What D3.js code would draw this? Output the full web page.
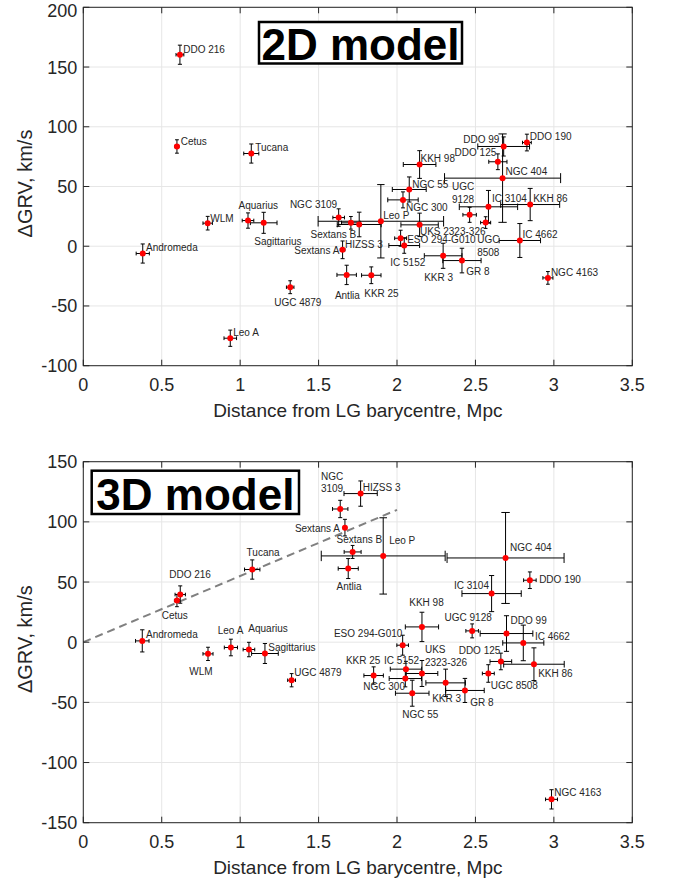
<!DOCTYPE html>
<html>
<head>
<meta charset="utf-8">
<script src="https://cdn.jsdelivr.net/npm/d3@7"></script>
<style>
  html, body { margin: 0; padding: 0; background: #ffffff; }
  svg { display: block; }
</style>
</head>
<body>
<div id="chart"></div>
<script>
// ---------------- DATA ----------------
const galaxies = ["DDO 216","Cetus","Tucana","WLM","Andromeda","Aquarius","Sagittarius","NGC 3109",
  "Sextans B","Sextans A","HIZSS 3","Leo P","UGC 4879","Leo A","Antlia","KKR 25","KKH 98","NGC 55",
  "NGC 300","UGC 9128","DDO 99","DDO 125","DDO 190","NGC 404","IC 3104","KKH 86","UKS 2323-326",
  "ESO 294-G010","UGC 8508","IC 5152","KKR 3","GR 8","IC 4662","NGC 4163"];

// 2D model
const dist2D = [0.616,0.597,1.071,0.793,0.379,1.050,1.150,1.628,1.706,1.653,1.759,1.897,1.319,0.937,1.679,1.836,2.144,2.078,
  2.038,2.463,2.680,2.643,2.828,2.673,2.583,2.849,2.144,2.023,2.565,2.046,2.294,2.414,2.783,2.962];
const grv2D = [160.3,83.5,77.6,19.3,-6.1,21.5,19.6,24.0,19.6,-3.0,18.2,20.9,-34.3,-77.0,-24.0,-24.3,68.4,47.5,
  38.8,26.3,83.5,70.7,86.8,57.0,33.0,34.9,17.9,6.7,19.8,0.6,-8.0,-12.0,4.8,-26.5];
const distErr2D = [0.025,0.013,0.048,0.030,0.042,0.037,0.085,0.037,0.060,0.015,0.140,0.400,0.024,0.040,0.062,0.062,0.104,0.108,
  0.097,0.043,0.165,0.058,0.028,0.370,0.186,0.188,0.119,0.038,0.032,0.098,0.120,0.122,0.132,0.032];
const grvErr2D = [8.0,5.6,8.0,5.7,8.0,6.4,8.8,7.3,5.3,7.4,10.3,30.7,5.4,6.8,8.1,7.0,11.6,10.5,
  6.7,6.3,8.0,6.6,7.0,37.0,13.7,13.5,9.8,6.7,4.9,6.5,10.5,10.3,14.2,5.3];
const labels2D = ["DDO 216","Cetus","Tucana","WLM","Andromeda","Aquarius","Sagittarius","NGC 3109",
  "Sextans B","Sextans A","HIZSS 3","Leo P","UGC 4879","Leo A","Antlia","KKR 25","KKH 98","NGC 55",
  "NGC 300","UGC\n9128","DDO 99","DDO 125","DDO 190","NGC 404","IC 3104","KKH 86","UKS 2323-326",
  "ESO 294-G010","UGC\n8508","IC 5152","KKR 3","GR 8","IC 4662","NGC 4163"];
const labelX2D = [0.637,0.621,1.096,0.809,0.400,0.990,1.090,1.317,1.449,1.345,1.668,1.912,1.217,0.956,1.604,1.791,2.150,2.097,
  2.057,2.350,2.422,2.367,2.847,2.692,2.605,2.868,2.146,2.065,2.511,1.957,2.173,2.441,2.800,2.981];
const labelY2D = [162.0,84.8,79.6,20.4,-4.4,31.3,0.8,32.2,7.0,-6.4,-1.3,22.9,-49.7,-74.8,-44.1,-42.7,70.7,48.9,
  29.9,46.9,86.0,75.4,88.8,59.5,37.2,37.2,9.8,2.8,2.8,-16.2,-28.7,-24.3,7.0,-24.5];

// 3D model
const dist3D = [0.618,0.597,1.077,0.795,0.376,1.056,1.158,1.638,1.717,1.668,1.768,1.912,1.328,0.941,1.689,1.851,2.159,2.097,
  2.053,2.479,2.698,2.662,2.847,2.692,2.603,2.873,2.159,2.036,2.582,2.057,2.310,2.433,2.805,2.985];
const grv3D = [39.6,34.6,60.4,-9.7,1.1,-6.1,-9.4,110.7,75.0,95.2,123.5,71.7,-31.6,-4.4,61.2,-27.7,12.7,-42.4,
  -30.2,9.4,7.2,-16.0,51.5,70.0,40.4,-18.3,-26.0,-2.5,-26.0,-22.4,-33.8,-40.1,-0.6,-130.6];
const distErr3D = [0.033,0.016,0.049,0.032,0.043,0.037,0.085,0.049,0.054,0.010,0.106,0.395,0.025,0.042,0.064,0.062,0.106,0.107,
  0.103,0.040,0.168,0.069,0.040,0.373,0.189,0.193,0.101,0.037,0.038,0.100,0.126,0.123,0.131,0.038];
const grvErr3D = [7.2,5.1,8.0,5.5,9.2,6.0,8.3,7.2,5.4,6.9,10.5,31.7,5.5,6.9,8.3,7.2,12.2,10.8,
  6.9,5.8,14.8,6.9,6.9,37.8,15.0,13.6,10.8,8.3,7.3,6.5,11.4,10.0,14.8,8.0];
const labels3D = ["DDO 216","Cetus","Tucana","WLM","Andromeda","Aquarius","Sagittarius","NGC\n3109",
  "Sextans B","Sextans A","HIZSS 3","Leo P","UGC 4879","Leo A","Antlia","KKR 25","KKH 98","NGC 55",
  "NGC 300","UGC 9128","DDO 99","DDO 125","DDO 190","NGC 404","IC 3104","KKH 86","UKS\n2323-326",
  "ESO 294-G010","UGC 8508","IC 5152","KKR 3","GR 8","IC 4662","NGC 4163"];
const labelX3D = [0.548,0.500,1.041,0.676,0.400,1.052,1.179,1.515,1.615,1.349,1.781,1.950,1.345,0.857,1.615,1.674,2.078,2.033,
  1.785,2.303,2.724,2.393,2.906,2.720,2.363,2.900,2.178,1.598,2.597,1.917,2.224,2.467,2.879,3.002];
const labelY3D = [53.7,19.1,71.7,-27.4,3.9,8.6,-7.2,135.1,82.5,91.6,125.7,82.0,-28.2,7.2,43.2,-18.3,29.9,-63.4,
  -39.9,17.7,15.5,-10.0,48.8,75.6,44.6,-29.3,-8.9,4.4,-39.3,-18.5,-50.1,-52.9,1.7,-127.9];

// Hubble-flow reference line in 3D panel
const refLineX = [0, 2.0];
const refLineY = [0, 110];

const xTicks = [0,0.5,1,1.5,2,2.5,3,3.5];
const yTicks2D = [-100,-50,0,50,100,150,200];
const yTicks3D = [-150,-100,-50,0,50,100,150];
const titles = ["2D model","3D model"];
const xLabel = "Distance from LG barycentre, Mpc";
const yLabel = "\u0394GRV, km/s";

// ---------------- DRAW ----------------
const W = 675, H = 887;
const svg = d3.select("#chart").append("svg").attr("width", W).attr("height", H);
const FONT = "'Liberation Sans', Arial, Helvetica, sans-serif";
const AX = "#262626";

function panel(cfg) {
  const x = d3.scaleLinear().domain([0, 3.5]).range([cfg.left, cfg.right]);
  const y = d3.scaleLinear().domain(cfg.yDomain).range([cfg.bottom, cfg.top]);
  const g = svg.append("g");

  // grid
  g.append("g").selectAll("line.gx").data(xTicks).join("line")
    .attr("x1", d => x(d)).attr("x2", d => x(d)).attr("y1", cfg.top).attr("y2", cfg.bottom)
    .attr("stroke", "#e6e6e6").attr("stroke-width", 1);
  g.append("g").selectAll("line.gy").data(cfg.yTicks).join("line")
    .attr("x1", cfg.left).attr("x2", cfg.right).attr("y1", d => y(d)).attr("y2", d => y(d))
    .attr("stroke", "#e6e6e6").attr("stroke-width", 1);

  // reference line
  if (cfg.refLine) {
    g.append("line")
      .attr("x1", x(refLineX[0])).attr("y1", y(refLineY[0]))
      .attr("x2", x(refLineX[1])).attr("y2", y(refLineY[1]))
      .attr("stroke", "#808080").attr("stroke-width", 2).attr("stroke-dasharray", "8,5");
  }

  const idx = d3.range(galaxies.length);
  const eb = g.append("g").attr("stroke", "#000").attr("stroke-width", 1).attr("fill", "none");
  idx.forEach(i => {
    const cx = x(cfg.dx[i]), cy = y(cfg.dy[i]);
    const x0 = x(cfg.dx[i] - cfg.ex[i]), x1 = x(cfg.dx[i] + cfg.ex[i]);
    const y0 = y(cfg.dy[i] - cfg.ey[i]), y1 = y(cfg.dy[i] + cfg.ey[i]);
    const cv = 1.5 + 0.06 * Math.abs(y0 - cy);
    const ch = 1.5 + 0.06 * Math.abs(x1 - cx);
    eb.append("path").attr("d",
      `M${cx},${y0}V${y1}M${cx - cv},${y0}H${cx + cv}M${cx - cv},${y1}H${cx + cv}` +
      `M${x0},${cy}H${x1}M${x0},${cy - ch}V${cy + ch}M${x1},${cy - ch}V${cy + ch}`);
  });

  g.append("g").selectAll("circle").data(idx).join("circle")
    .attr("cx", i => x(cfg.dx[i])).attr("cy", i => y(cfg.dy[i])).attr("r", 3)
    .attr("fill", "#ff0000");

  // labels
  const lt = g.append("g").attr("font-family", FONT).attr("font-size", 10).attr("fill", AX);
  idx.forEach(i => {
    const t = lt.append("text").attr("x", x(cfg.lx[i])).attr("y", y(cfg.ly[i]));
    cfg.labels[i].split("\n").forEach((s, k) => {
      t.append("tspan").attr("x", x(cfg.lx[i])).attr("dy", k === 0 ? 0 : 12.8).text(s);
    });
  });

  // axes box + ticks (inside, all sides)
  const ax = g.append("g").attr("stroke", AX).attr("stroke-width", 1).attr("fill", "none");
  ax.append("rect").attr("x", cfg.left).attr("y", cfg.top)
    .attr("width", cfg.right - cfg.left).attr("height", cfg.bottom - cfg.top);
  const TL = 6;
  xTicks.forEach(t => {
    ax.append("line").attr("x1", x(t)).attr("x2", x(t)).attr("y1", cfg.bottom).attr("y2", cfg.bottom - TL);
    ax.append("line").attr("x1", x(t)).attr("x2", x(t)).attr("y1", cfg.top).attr("y2", cfg.top + TL);
  });
  cfg.yTicks.forEach(t => {
    ax.append("line").attr("x1", cfg.left).attr("x2", cfg.left + TL).attr("y1", y(t)).attr("y2", y(t));
    ax.append("line").attr("x1", cfg.right).attr("x2", cfg.right - TL).attr("y1", y(t)).attr("y2", y(t));
  });

  // tick labels
  const tl = g.append("g").attr("font-family", FONT).attr("font-size", 18).attr("fill", AX);
  tl.selectAll("text.xt").data(xTicks).join("text")
    .attr("x", d => x(d)).attr("y", cfg.bottom + 25).attr("text-anchor", "middle").text(d => String(d));
  tl.selectAll("text.yt").data(cfg.yTicks).join("text")
    .attr("x", cfg.left - 6).attr("y", d => Math.max(y(d) + 6.5, 17)).attr("text-anchor", "end").text(d => String(d));

  // axis titles
  g.append("text").attr("x", (cfg.left + cfg.right) / 2).attr("y", cfg.bottom + 51)
    .attr("text-anchor", "middle").attr("font-family", FONT).attr("font-size", 19).attr("fill", AX)
    .text(xLabel);
  g.append("text")
    .attr("transform", `translate(32,${(cfg.top + cfg.bottom) / 2 - 3}) rotate(-90)`)
    .attr("text-anchor", "middle").attr("font-family", FONT).attr("font-size", 20).attr("fill", AX)
    .text(yLabel);

  // title box
  g.append("rect").attr("x", cfg.box[0]).attr("y", cfg.box[1]).attr("width", cfg.box[2]).attr("height", cfg.box[3])
    .attr("fill", "#fff").attr("stroke", "#000").attr("stroke-width", 2.5);
  g.append("text").attr("x", cfg.box[0] + cfg.box[2] / 2).attr("y", cfg.box[1] + cfg.box[3] - 4)
    .attr("text-anchor", "middle").attr("font-family", FONT).attr("font-weight", "bold")
    .attr("font-size", 44).attr("fill", "#000").text(cfg.title);
}

panel({
  left: 83.3, right: 632.3, top: 7.3, bottom: 365.7, yDomain: [-100, 200], yTicks: yTicks2D,
  dx: dist2D, dy: grv2D, ex: distErr2D, ey: grvErr2D, labels: labels2D, lx: labelX2D, ly: labelY2D,
  title: titles[0], box: [259, 22, 203, 41.5], refLine: false
});
panel({
  left: 83.3, right: 632.3, top: 461.7, bottom: 822.7, yDomain: [-150, 150], yTicks: yTicks3D,
  dx: dist3D, dy: grv3D, ex: distErr3D, ey: grvErr3D, labels: labels3D, lx: labelX3D, ly: labelY3D,
  title: titles[1], box: [91.7, 470.7, 207.3, 43.3], refLine: true
});
</script>
</body>
</html>
